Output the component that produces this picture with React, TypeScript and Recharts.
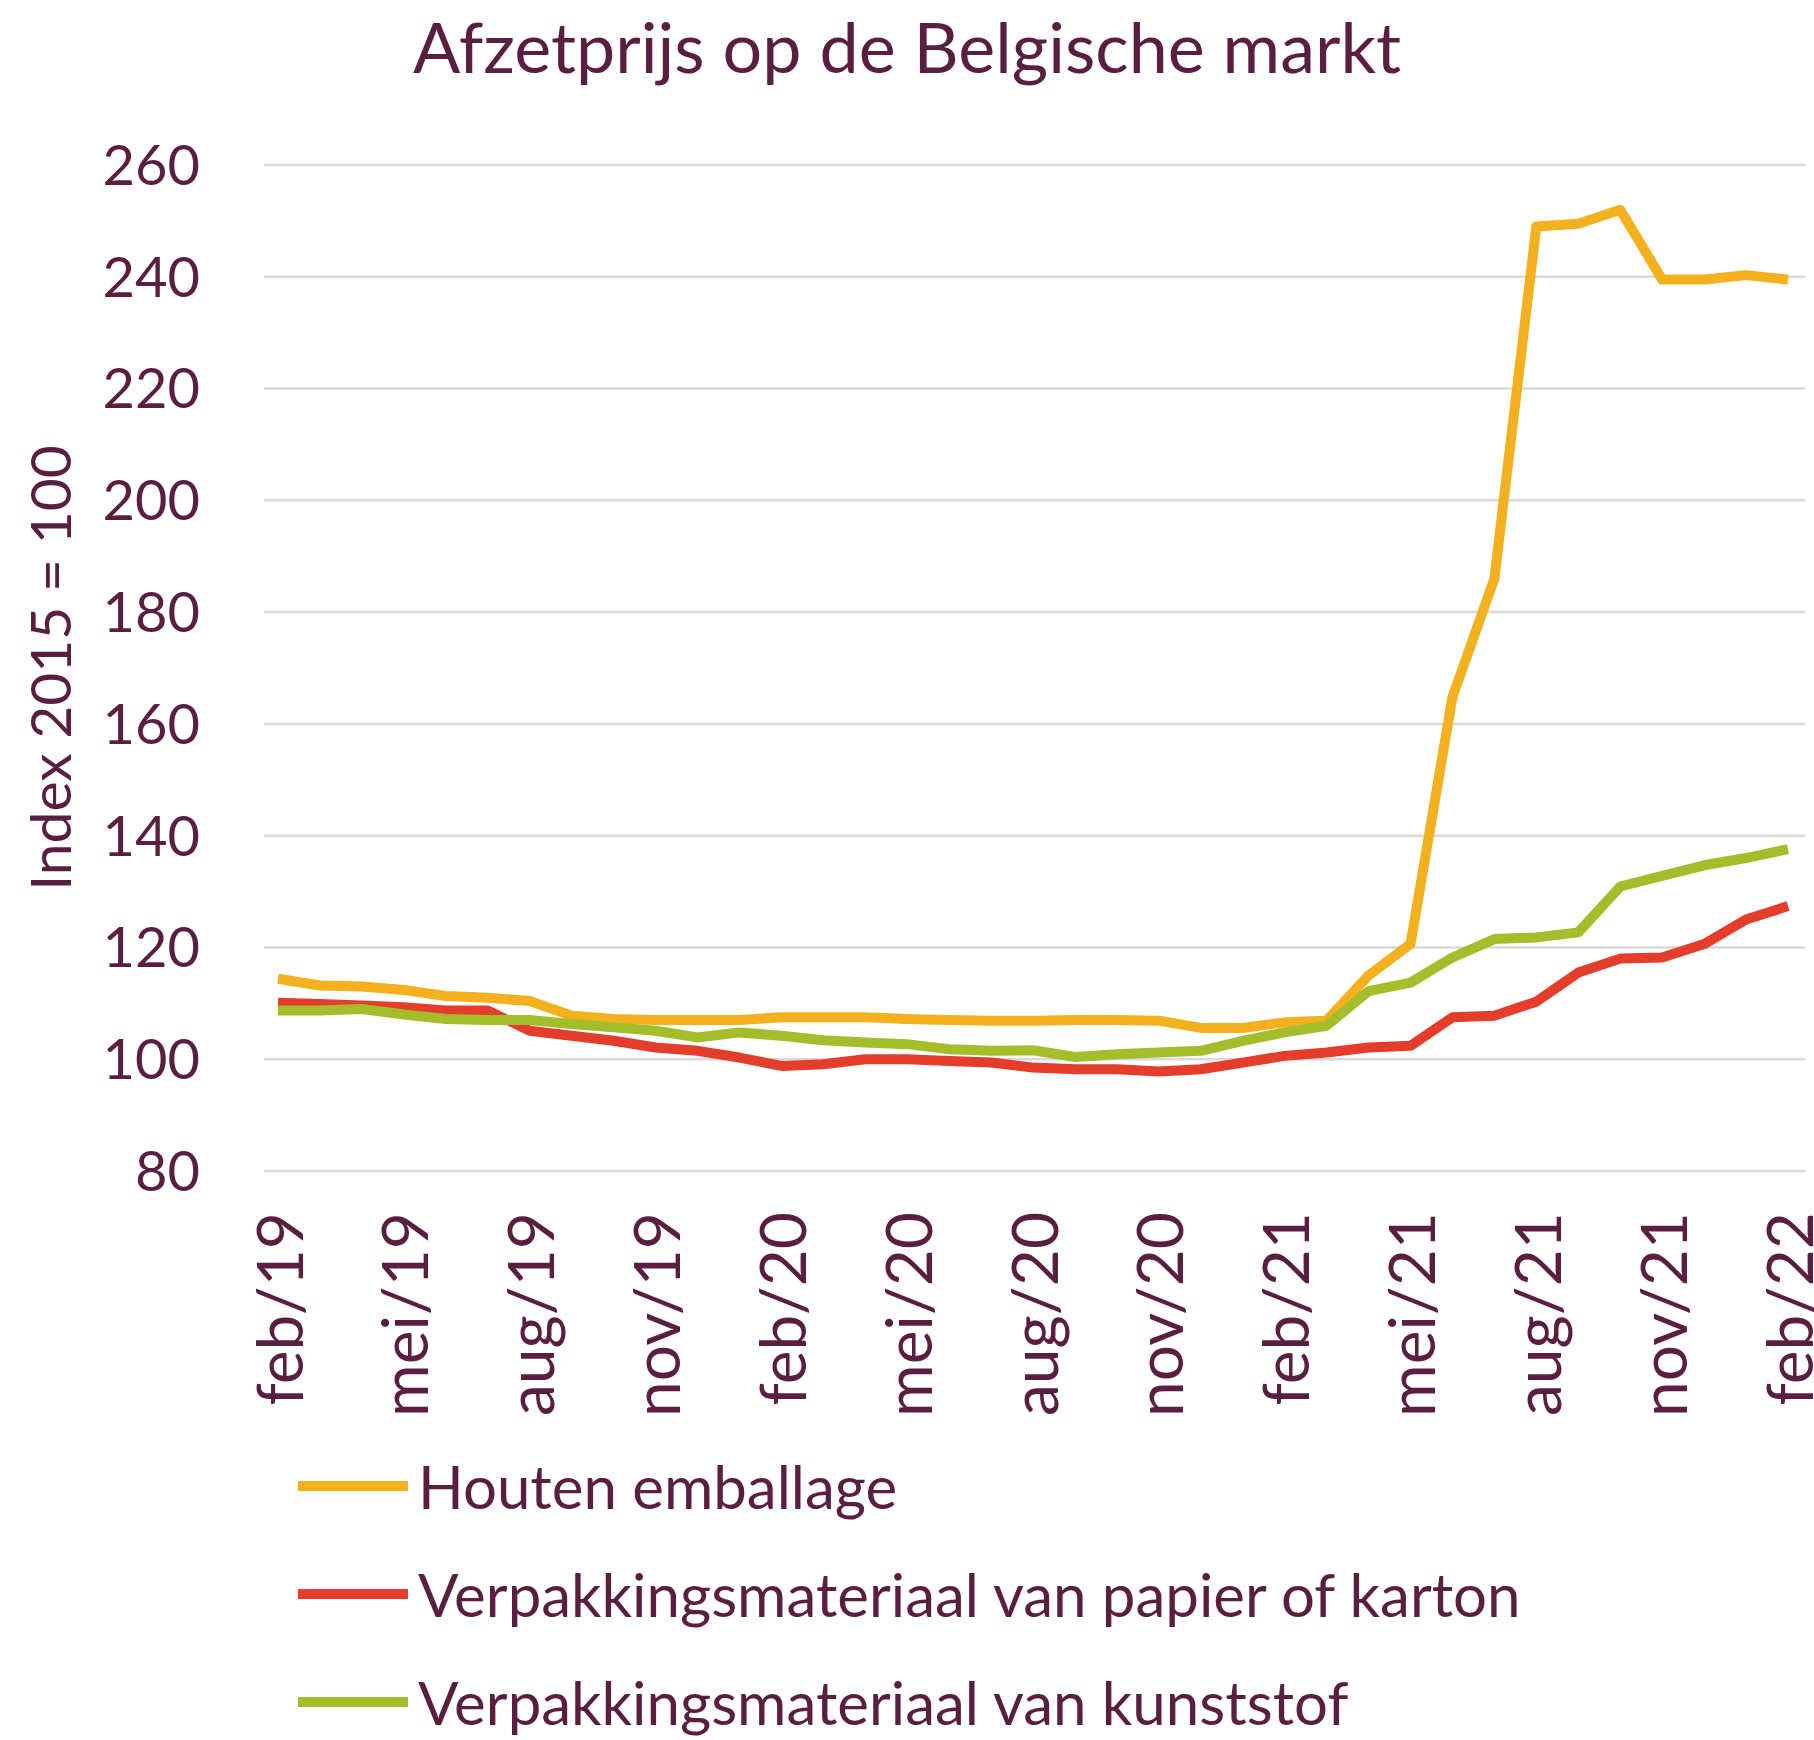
import React from 'react';
import { CartesianGrid, Legend, Line, LineChart, XAxis, YAxis } from 'recharts';

const months = [
  'feb/19', 'mrt/19', 'apr/19', 'mei/19', 'jun/19', 'jul/19', 'aug/19', 'sep/19', 'okt/19', 'nov/19',
  'dec/19', 'jan/20', 'feb/20', 'mrt/20', 'apr/20', 'mei/20', 'jun/20', 'jul/20', 'aug/20', 'sep/20',
  'okt/20', 'nov/20', 'dec/20', 'jan/21', 'feb/21', 'mrt/21', 'apr/21', 'mei/21', 'jun/21', 'jul/21',
  'aug/21', 'sep/21', 'okt/21', 'nov/21', 'dec/21', 'jan/22', 'feb/22',
];

const houten = [
  114.4, 113.2, 113, 112.4, 111.3, 111, 110.4, 107.8, 107.2, 107, 107, 107, 107.5, 107.5, 107.5, 107.2,
  107, 106.9, 106.9, 107, 107, 106.9, 105.6, 105.6, 106.6, 106.9, 115, 120.6, 164.8, 186, 249, 249.5,
  252, 239.5, 239.5, 240.3, 239.5,
];

const papier = [
  110.1, 109.9, 109.6, 109.3, 108.7, 108.7, 105.1, 104.2, 103.3, 102.1, 101.5, 100.3, 98.8, 99.1, 100, 100,
  99.7, 99.4, 98.5, 98.2, 98.2, 97.8, 98.2, 99.4, 100.6, 101.2, 102.1, 102.4, 107.5, 107.8, 110.3, 115.5,
  118, 118.2, 120.6, 125, 127.4,
];

const kunststof = [
  108.7, 108.7, 109, 108, 107.2, 107, 107, 106.3, 105.7, 105.1, 103.9, 104.8, 104.2, 103.4, 103, 102.7,
  101.8, 101.5, 101.6, 100.4, 100.9, 101.2, 101.5, 103.3, 104.8, 106, 112.2, 113.7, 118.2, 121.5, 121.8,
  122.7, 130.9, 132.8, 134.7, 136, 137.6,
];

const yTicks = [80, 100, 120, 140, 160, 180, 200, 220, 240, 260];

const series = [
  { key: 'houten', name: 'Houten emballage', color: '#f3b11f' },
  { key: 'papier', name: 'Verpakkingsmateriaal van papier of karton', color: '#e43d2b' },
  { key: 'kunststof', name: 'Verpakkingsmateriaal van kunststof', color: '#a3bd2b' },
];

const data = months.map((m, i) => ({
  month: m,
  houten: houten[i],
  papier: papier[i],
  kunststof: kunststof[i],
}));

const TEXT = '#5a1f40';
const FONT = 'Lato, sans-serif';

const XTick = (props: any) => {
  const { x, y, payload } = props;
  return (
    <text
      x={x}
      y={y}
      transform={`rotate(-90 ${x} ${y})`}
      textAnchor="end"
      dominantBaseline="central"
      fill={TEXT}
      fontSize={64}
      fontFamily={FONT}
    >
      {payload.value}
    </text>
  );
};

const LegendBox = () => (
  <div style={{ width: 1814, height: 320, position: 'relative', fontFamily: FONT }}>
    {series.map((s, i) => (
      <div
        key={s.key}
        style={{
          position: 'absolute',
          left: 298,
          top: 66 + i * 108,
          height: 0,
          display: 'flex',
          alignItems: 'center',
        }}
      >
        <div style={{ width: 110, height: 10, background: s.color }} />
        <span style={{ marginLeft: 10, fontSize: 60, color: TEXT, whiteSpace: 'nowrap', lineHeight: 1 }}>
          {s.name}
        </span>
      </div>
    ))}
  </div>
);

export default function App() {
  return (
    <div style={{ position: 'absolute', left: 0, top: 0, width: 1814, height: 1740, background: '#fff' }}>
      <div
        style={{
          position: 'absolute',
          top: 4,
          left: 0,
          width: 1814,
          textAlign: 'center',
          fontFamily: FONT,
          fontSize: 70,
          color: TEXT,
          lineHeight: 1.2,
        }}
      >
        Afzetprijs op de Belgische markt
      </div>
      <LineChart width={1814} height={1740} data={data} margin={{ top: 165, right: 9, left: 0, bottom: 0 }}>
        <CartesianGrid vertical={false} stroke="#d9d9d9" strokeWidth={2.5} />
        <XAxis
          dataKey="month"
          interval={2}
          height={249}
          axisLine={false}
          tickLine={false}
          tickSize={0}
          tickMargin={41}
          padding={{ left: 14, right: 17 }}
          tick={<XTick />}
        />
        <YAxis
          width={264}
          domain={[80, 260]}
          ticks={yTicks}
          axisLine={false}
          tickLine={false}
          tickSize={0}
          tickMargin={64}
          tick={{ fontSize: 56, fill: TEXT, fontFamily: FONT }}
          label={{
            content: () => (
              <text
                x={49}
                y={668}
                transform="rotate(-90 49 668)"
                textAnchor="middle"
                dominantBaseline="central"
                fill={TEXT}
                fontSize={57}
                fontFamily={FONT}
              >
                Index 2015 = 100
              </text>
            ),
          }}
        />
        <Legend
          layout="vertical"
          align="center"
          verticalAlign="bottom"
          wrapperStyle={{ left: 0, bottom: 0 }}
          content={() => <LegendBox />}
        />
        {series.map((s) => (
          <Line
            key={s.key}
            type="linear"
            dataKey={s.key}
            name={s.name}
            stroke={s.color}
            strokeWidth={10}
            strokeLinejoin="round"
            dot={false}
            isAnimationActive={false}
          />
        ))}
      </LineChart>
    </div>
  );
}
